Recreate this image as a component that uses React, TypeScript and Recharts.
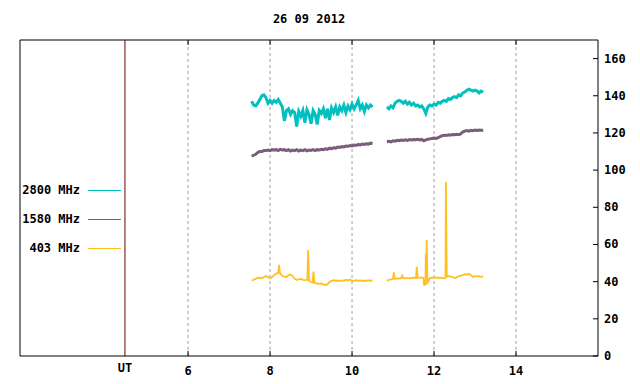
import { LineChart, Line, XAxis, YAxis, ReferenceLine } from "recharts";

const title = "26 09 2012";

// UT hours, two recording segments
const seg1Hours = [
  7.55, 7.6, 7.65, 7.7, 7.75, 7.8, 7.85, 7.9, 7.95, 8.0,
  8.05, 8.1, 8.15, 8.2, 8.25, 8.3, 8.35, 8.4, 8.45, 8.5,
  8.55, 8.6, 8.65, 8.7, 8.75, 8.8, 8.85, 8.9, 8.95, 9.0,
  9.05, 9.1, 9.15, 9.2, 9.25, 9.3, 9.35, 9.4, 9.45, 9.5,
  9.55, 9.6, 9.65, 9.7, 9.75, 9.8, 9.85, 9.9, 9.95, 10.0,
  10.05, 10.1, 10.15, 10.2, 10.25, 10.3, 10.35, 10.4, 10.45, 10.5,
];
const seg2Hours = [
  10.85, 10.9, 10.95, 11.0, 11.05, 11.1, 11.15, 11.2, 11.25, 11.3,
  11.35, 11.4, 11.45, 11.5, 11.55, 11.6, 11.65, 11.7, 11.75, 11.8,
  11.85, 11.9, 11.95, 12.0, 12.05, 12.1, 12.15, 12.2, 12.25, 12.3,
  12.35, 12.4, 12.45, 12.5, 12.55, 12.6, 12.65, 12.7, 12.75, 12.8,
  12.85, 12.9, 12.95, 13.0, 13.05, 13.1, 13.15, 13.2,
];
const gapHour = 10.68;

const mhz2800a = [
  137, 135, 134.5, 136, 138, 140, 140.5, 139, 136, 137.5,
  136, 137.5, 136.5, 138, 136, 134, 126.5, 132, 133, 130,
  132, 131, 123.5, 131.5, 129, 132, 125.5, 132.5, 130, 125,
  132, 130, 124.5, 132, 130.5, 133, 128, 133, 127, 133.5,
  131, 134, 129.5, 134, 132, 135, 131, 134.5, 132.5, 135.5,
  133, 135, 137.5, 133, 135, 131.5, 135, 133.5, 135, 134,
];
const mhz2800b = [
  134, 133, 134.5, 133.5, 136, 137, 137.5, 137, 136, 137,
  135.5, 136.5, 135, 136, 134.5, 135, 134, 134.5, 133, 130.5,
  134, 135, 134.5, 135.5, 135, 136.5, 136, 137, 137.5, 137,
  138.5, 138, 139, 139.5, 139, 140.5, 140, 141.5, 142, 143,
  143.5, 143, 142.5, 143, 142.5, 141.5, 142.5, 142,
];

const mhz1580a = [
  107.5, 108, 108.5, 109.5, 110, 110, 110.5, 110.5, 110.8, 110.5,
  111, 110.8, 111, 110.5, 111.2, 110.8, 111, 110.5, 111, 110.3,
  110.8, 110.5, 111, 110.3, 110.8, 110.5, 111, 110.4, 110.8, 110.6,
  111, 110.5, 111, 110.8, 111.2, 111, 111.5, 111.2, 111.8, 111.5,
  112, 111.8, 112.4, 112.2, 112.7, 112.5, 113, 112.8, 113.2, 113,
  113.5, 113.3, 113.8, 113.6, 114, 113.8, 114.2, 114, 114.5, 114.3,
];
const mhz1580b = [
  115.3, 115.5, 115.2, 115.8, 115.6, 116, 115.8, 116.2, 116, 116.3,
  116, 116.4, 116.2, 116.5, 116.3, 116.6, 116.2, 116.5, 115.8, 116.3,
  116.6, 116.8, 117, 117.2, 117, 117.5, 118, 118.5, 118.8, 118.6,
  119, 118.8, 119.2, 119, 119.3, 119.1, 119.5, 120.5, 121, 121.3,
  121, 121.4, 121.2, 121.5, 121.3, 121.6, 121.4, 121.5,
];

// 403 MHz has its own sample hours (spikes)
const mhz403HoursA = [
  7.55, 7.6, 7.65, 7.7, 7.75, 7.8, 7.85, 7.9, 7.95, 8.0,
  8.05, 8.1, 8.15, 8.2, 8.22, 8.24, 8.3, 8.35, 8.4, 8.45,
  8.5, 8.55, 8.6, 8.65, 8.7, 8.75, 8.8, 8.85, 8.91, 8.93,
  8.95, 9.0, 9.04, 9.06, 9.08, 9.15, 9.2, 9.25, 9.3, 9.35,
  9.4, 9.45, 9.5, 9.55, 9.6, 9.65, 9.7, 9.75, 9.8, 9.85,
  9.9, 9.95, 10.0, 10.05, 10.1, 10.15, 10.2, 10.25, 10.3, 10.35,
  10.4, 10.45, 10.5,
];
const mhz403A = [
  40.6, 41, 41.5, 42, 42.2, 41.8, 42.5, 43, 42.5, 41.7,
  42.5, 43.5, 44.5, 44.5, 49, 44.8, 43, 42.7, 42.5, 43.5,
  43.8, 43, 41.5, 41, 41.2, 41.5, 41, 40.8, 41, 57,
  40.5, 39.8, 39.5, 45.4, 39.5, 39, 38.8, 39, 38.5, 38.2,
  38.5, 39.8, 40.4, 40.8, 40.5, 40.6, 40.4, 40.7, 40.5, 41,
  40.6, 41.2, 40.6, 40.5, 40.8, 40.5, 40.7, 40.5, 40.6, 40.5,
  40.7, 40.5, 40.8,
];
const mhz403HoursB = [
  10.85, 10.9, 10.95, 11.0, 11.02, 11.04, 11.1, 11.15, 11.2, 11.22,
  11.25, 11.3, 11.35, 11.4, 11.45, 11.5, 11.56, 11.58, 11.6, 11.65,
  11.7, 11.74, 11.76, 11.79, 11.8, 11.81, 11.82, 11.84, 11.88, 11.9,
  11.95, 12.0, 12.05, 12.1, 12.15, 12.2, 12.25, 12.28, 12.29, 12.31,
  12.35, 12.4, 12.45, 12.5, 12.55, 12.6, 12.65, 12.7, 12.75, 12.8,
  12.85, 12.9, 12.95, 13.0, 13.05, 13.1, 13.15, 13.2,
];
const mhz403B = [
  40.4, 41, 41.2, 41.5, 45, 41.5, 41.8, 41.6, 42, 43.3,
  42, 41.8, 42, 41.8, 42, 42.2, 42, 48, 42.2, 42,
  42.3, 42, 38.2, 38.5, 55, 40, 62.5, 39.5, 41, 42,
  42.2, 42, 42.3, 42, 42.2, 42, 41.8, 42, 93.7, 42.8,
  43, 42.8, 42.5, 42, 42.3, 43, 43.3, 43.5, 44, 43.8,
  44.2, 43.5, 42.5, 43, 42.8, 43, 42.6, 42.8,
];

const seriesNames = ["2800 MHz", "1580 MHz", "403 MHz"];
const seriesColors = ["#00c0c0", "#7c5c7e", "#ffc020"];
const seriesWidths = [3, 3, 1.8];

const xTicks = [4.46, 6, 8, 10, 12, 14];
const xTickLabels = ["UT", "6", "8", "10", "12", "14"];
const gridHours = [6, 8, 10, 12, 14];
const yTicks = [0, 20, 40, 60, 80, 100, 120, 140, 160];

const FONT = "'DejaVu Sans Mono', monospace";
const PLOT_TOP = 40;

function join(ha: number[], va: number[], hb: number[], vb: number[]) {
  const a = ha.map((t, i) => ({ t, v: va[i] as number | null }));
  const b = hb.map((t, i) => ({ t, v: vb[i] as number | null }));
  return [...a, { t: gapHour, v: null }, ...b];
}

const series = [
  join(seg1Hours, mhz2800a, seg2Hours, mhz2800b),
  join(seg1Hours, mhz1580a, seg2Hours, mhz1580b),
  join(mhz403HoursA, mhz403A, mhz403HoursB, mhz403B),
];

const XTick = (props: any) => {
  const { x, y, payload } = props;
  const i = xTicks.indexOf(payload.value);
  const isUT = i === 0;
  return (
    <g>
      {!isUT && <line x1={x} x2={x} y1={y} y2={y - 5} stroke="#000" />}
      {!isUT && <line x1={x} x2={x} y1={PLOT_TOP} y2={PLOT_TOP + 5} stroke="#000" />}
      <text x={x} y={isUT ? y + 16 : y + 19} textAnchor="middle" fontFamily={FONT} fontSize={12} fontWeight="bold" fill="#000">
        {xTickLabels[i]}
      </text>
    </g>
  );
};

const YTick = (props: any) => {
  const { x, y, payload } = props;
  return (
    <g>
      <line x1={x - 5} x2={x} y1={y} y2={y} stroke="#000" />
      <text x={x + 6} y={y + 4} textAnchor="start" fontFamily={FONT} fontSize={12} fontWeight="bold" fill="#000">
        {payload.value}
      </text>
    </g>
  );
};

export default function App() {
  const legendY = [190, 219, 248];
  return (
    <div style={{ position: "absolute", left: 0, top: 0, width: 640, height: 384, background: "#fff" }}>
      <LineChart width={640} height={384} margin={{ top: 40, right: 0, bottom: 0, left: 20 }}>
        <XAxis
          dataKey="t"
          type="number"
          domain={[1.9, 16]}
          ticks={xTicks}
          interval={0}
          allowDataOverflow
          height={28}
          tickSize={0}
          tickMargin={0}
          tickLine={false}
          axisLine={{ stroke: "#000" }}
          tick={<XTick />}
        />
        <YAxis
          orientation="right"
          type="number"
          domain={[0, 170]}
          ticks={yTicks}
          interval={0}
          width={42}
          tickSize={0}
          tickMargin={0}
          tickLine={false}
          axisLine={{ stroke: "#000" }}
          tick={<YTick />}
        />
        {gridHours.map((h) => (
          <ReferenceLine key={h} x={h} stroke="#a0a0a0" strokeDasharray="3 3" ifOverflow="visible" />
        ))}
        <ReferenceLine y={170} stroke="#000" ifOverflow="visible" />
        <ReferenceLine x={1.9} stroke="#000" ifOverflow="visible" />
        <ReferenceLine x={xTicks[0]} stroke="#6a0000" ifOverflow="visible" />
        {series.map((d, i) => (
          <Line
            key={seriesNames[i]}
            data={d}
            dataKey="v"
            type="linear"
            stroke={seriesColors[i]}
            strokeWidth={seriesWidths[i]}
            dot={false}
            connectNulls={false}
            isAnimationActive={false}
          />
        ))}
      </LineChart>
      <div style={{ position: "absolute", left: 20, width: 578, top: 12, textAlign: "center", fontFamily: FONT, fontSize: 12, fontWeight: "bold", lineHeight: "14px" }}>
        {title}
      </div>
      {seriesNames.map((name, i) => (
        <div key={name}>
          <div style={{ position: "absolute", right: 560, top: legendY[i] - 7, fontFamily: FONT, fontSize: 12, fontWeight: "bold", lineHeight: "14px", whiteSpace: "nowrap" }}>
            {name}
          </div>
          <div style={{ position: "absolute", left: 88, width: 33, top: legendY[i], height: 1, background: seriesColors[i] }} />
        </div>
      ))}
    </div>
  );
}
